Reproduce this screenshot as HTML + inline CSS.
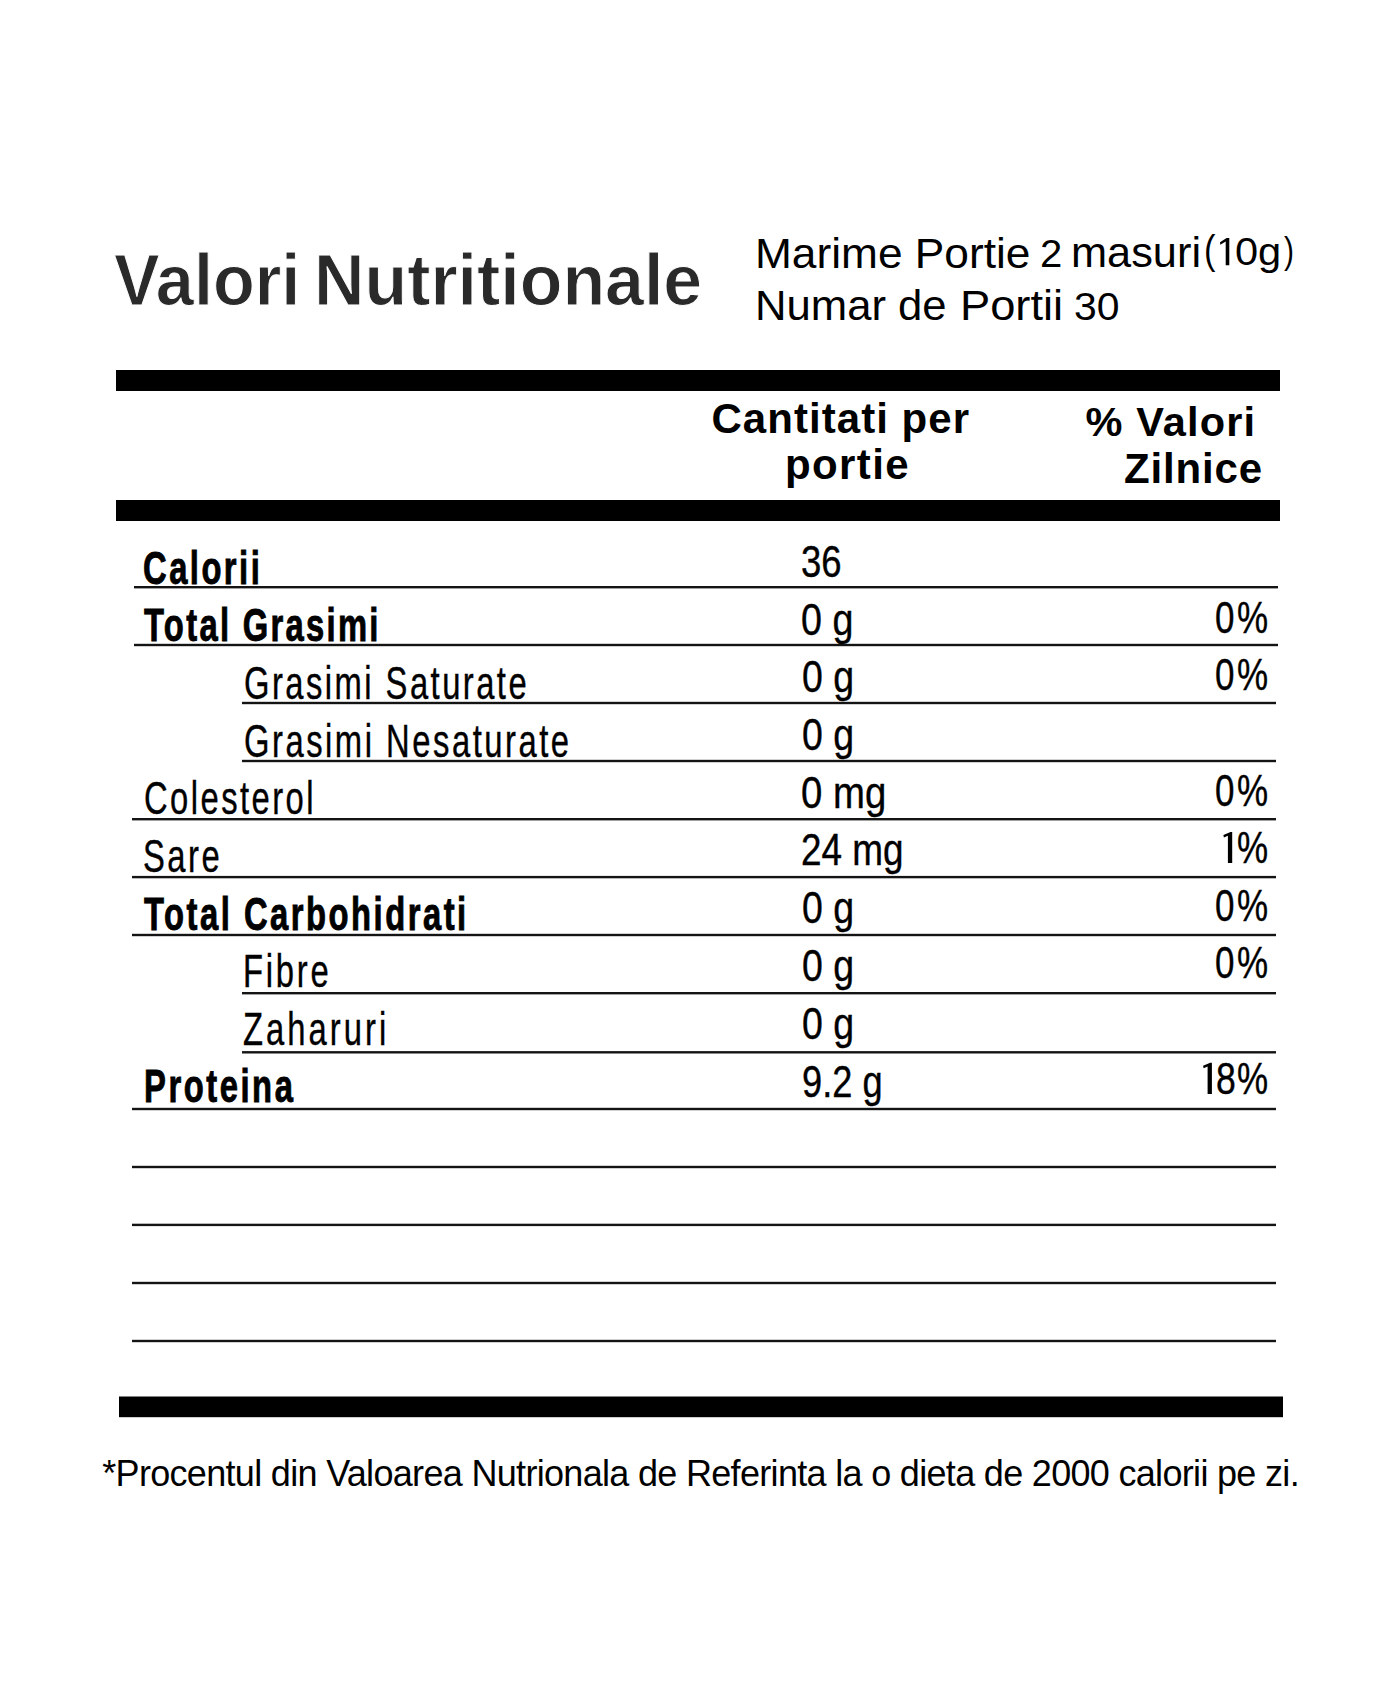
<!DOCTYPE html>
<html><head><meta charset="utf-8"><title>Valori Nutritionale</title>
<style>
html,body{margin:0;padding:0;background:#fff;}
body{width:1400px;height:1700px;position:relative;overflow:hidden;font-family:"Liberation Sans",sans-serif;}
.t{position:absolute;white-space:pre;line-height:1;transform-origin:0 0;}
.c{-webkit-text-stroke:0.4px #000;}
.cb{-webkit-text-stroke:0.9px #000;}
.ti{-webkit-text-stroke:1px #fff;}
</style></head><body>
<svg width="1400" height="1700" style="position:absolute;left:0;top:0"><rect x="116" y="370" width="1164" height="21" fill="#000"/><rect x="116" y="500" width="1164" height="21" fill="#000"/><rect x="119" y="1396.5" width="1164" height="20.700000000000045" fill="#000"/><rect x="134" y="586.00" width="1144" height="2.4" fill="#141414"/><rect x="134" y="643.80" width="1144" height="2.4" fill="#141414"/><rect x="242" y="701.80" width="1034" height="2.4" fill="#141414"/><rect x="242" y="759.80" width="1034" height="2.4" fill="#141414"/><rect x="132" y="818.00" width="1144" height="2.4" fill="#141414"/><rect x="132" y="875.90" width="1144" height="2.4" fill="#141414"/><rect x="132" y="933.80" width="1144" height="2.4" fill="#141414"/><rect x="242" y="992.00" width="1034" height="2.4" fill="#141414"/><rect x="242" y="1051.10" width="1034" height="2.4" fill="#141414"/><rect x="132" y="1107.80" width="1144" height="2.4" fill="#141414"/><rect x="132" y="1165.80" width="1144" height="2.4" fill="#141414"/><rect x="132" y="1223.70" width="1144" height="2.4" fill="#141414"/><rect x="132" y="1281.80" width="1144" height="2.4" fill="#141414"/><rect x="132" y="1339.80" width="1144" height="2.4" fill="#141414"/><polygon points="1223.40,834.90 1230.50,831.90 1232.20,831.90 1232.20,863.00 1227.90,863.00 1227.90,835.80 1223.90,837.50" fill="#000"/><polygon points="1220,242.3 1226.6,237.9 1229.3,237.9 1229.3,265.3 1225.7,265.3 1225.7,241.6 1220.3,244.7" fill="#000"/><polygon points="1203.10,1065.70 1210.20,1062.70 1211.90,1062.70 1211.90,1093.90 1207.60,1093.90 1207.60,1066.60 1203.60,1068.30" fill="#000"/></svg>
<div class="t ti" style="left:113.55px;top:243.50px;font-weight:700;font-size:72px;color:#2a2a2a;transform:scaleX(0.9500)">Valori</div>
<div class="t ti" style="left:313.75px;top:243.50px;font-weight:700;font-size:72px;color:#2a2a2a;transform:scaleX(0.9705)">Nutritionale</div>
<div class="t" style="left:755.18px;top:232.80px;font-weight:400;font-size:42.5px;color:#000;transform:scaleX(1.0412)">Marime Portie</div>
<div class="t" style="left:1040.44px;top:233.80px;font-weight:400;font-size:39px;color:#000;transform:scaleX(1.0278)">2</div>
<div class="t" style="left:1070.54px;top:231.70px;font-weight:400;font-size:42.5px;color:#000;transform:scaleX(1.0197)">masuri</div>
<div class="t" style="left:1204.29px;top:231.40px;font-weight:400;font-size:40.3px;color:#000;transform:scaleX(0.8545)">(</div>
<div class="t" style="left:1234.69px;top:232.30px;font-weight:400;font-size:39.5px;color:#000;transform:scaleX(1.0525)">0g</div>
<div class="t" style="left:1283.77px;top:232.60px;font-weight:400;font-size:36px;color:#000;transform:scaleX(0.8333)">)</div>
<div class="t" style="left:754.88px;top:285.30px;font-weight:400;font-size:42px;color:#000;transform:scaleX(1.0389)">Numar de</div>
<div class="t" style="left:959.77px;top:285.30px;font-weight:400;font-size:42px;color:#000;transform:scaleX(1.0778)">Portii</div>
<div class="t" style="left:1074.38px;top:288.30px;font-weight:400;font-size:38.5px;color:#000;transform:scaleX(1.0625)">30</div>
<div class="t" style="left:711.50px;top:397.50px;font-weight:700;font-size:42px;color:#000;letter-spacing:1.042px">Cantitati per</div>
<div class="t" style="left:785.00px;top:443.50px;font-weight:700;font-size:42px;color:#000;letter-spacing:1.400px">portie</div>
<div class="t" style="left:1085.50px;top:401.00px;font-weight:700;font-size:41.5px;color:#000;letter-spacing:1.143px">% Valori</div>
<div class="t" style="left:1124.00px;top:447.50px;font-weight:700;font-size:42px;color:#000;letter-spacing:0.833px">Zilnice</div>
<div class="t cb" style="left:143.31px;top:546.00px;font-weight:700;font-size:45.5px;color:#000;letter-spacing:3.428px;transform:scaleX(0.7200)">Calorii</div>
<div class="t cb" style="left:143.50px;top:603.40px;font-weight:700;font-size:45.5px;color:#000;letter-spacing:3.185px;transform:scaleX(0.7200)">Total Grasimi</div>
<div class="t c" style="left:243.56px;top:661.30px;font-weight:400;font-size:45.5px;color:#000;letter-spacing:3.413px;transform:scaleX(0.7200)">Grasimi Saturate</div>
<div class="t c" style="left:243.56px;top:719.10px;font-weight:400;font-size:45.5px;color:#000;letter-spacing:3.500px;transform:scaleX(0.7200)">Grasimi Nesaturate</div>
<div class="t c" style="left:144.06px;top:776.30px;font-weight:400;font-size:45.5px;color:#000;letter-spacing:3.395px;transform:scaleX(0.7200)">Colesterol</div>
<div class="t c" style="left:143.06px;top:833.80px;font-weight:400;font-size:45.5px;color:#000;letter-spacing:3.500px;transform:scaleX(0.7200)">Sare</div>
<div class="t cb" style="left:143.50px;top:891.60px;font-weight:700;font-size:45.5px;color:#000;letter-spacing:3.472px;transform:scaleX(0.7200)">Total Carbohidrati</div>
<div class="t c" style="left:243.12px;top:949.00px;font-weight:400;font-size:45.5px;color:#000;letter-spacing:3.833px;transform:scaleX(0.7200)">Fibre</div>
<div class="t c" style="left:243.18px;top:1006.70px;font-weight:400;font-size:45.5px;color:#000;letter-spacing:4.226px;transform:scaleX(0.7200)">Zaharuri</div>
<div class="t cb" style="left:143.84px;top:1064.20px;font-weight:700;font-size:45.5px;color:#000;letter-spacing:3.536px;transform:scaleX(0.7200)">Proteina</div>
<div class="t c" style="left:801.16px;top:540.20px;font-weight:400;font-size:44.5px;color:#000;transform:scaleX(0.8196)">36</div>
<div class="t c" style="left:801.31px;top:597.70px;font-weight:400;font-size:44.5px;color:#000;transform:scaleX(0.8456)">0 g</div>
<div class="t c" style="left:801.82px;top:655.20px;font-weight:400;font-size:44.5px;color:#000;transform:scaleX(0.8421)">0 g</div>
<div class="t c" style="left:801.82px;top:713.00px;font-weight:400;font-size:44.5px;color:#000;transform:scaleX(0.8421)">0 g</div>
<div class="t c" style="left:801.28px;top:770.60px;font-weight:400;font-size:44.5px;color:#000;transform:scaleX(0.8617)">0 mg</div>
<div class="t c" style="left:800.84px;top:828.40px;font-weight:400;font-size:44.5px;color:#000;transform:scaleX(0.8294)">24 mg</div>
<div class="t c" style="left:801.82px;top:886.20px;font-weight:400;font-size:44.5px;color:#000;transform:scaleX(0.8421)">0 g</div>
<div class="t c" style="left:801.82px;top:944.00px;font-weight:400;font-size:44.5px;color:#000;transform:scaleX(0.8421)">0 g</div>
<div class="t c" style="left:801.82px;top:1001.70px;font-weight:400;font-size:44.5px;color:#000;transform:scaleX(0.8421)">0 g</div>
<div class="t c" style="left:801.87px;top:1059.50px;font-weight:400;font-size:44.5px;color:#000;transform:scaleX(0.8138)">9.2 g</div>
<div class="t c" style="left:1215.18px;top:595.70px;font-weight:400;font-size:44.5px;color:#000;transform:scaleX(0.7857)">0</div>
<div class="t c" style="left:1215.18px;top:653.30px;font-weight:400;font-size:44.5px;color:#000;transform:scaleX(0.7857)">0</div>
<div class="t c" style="left:1215.18px;top:768.50px;font-weight:400;font-size:44.5px;color:#000;transform:scaleX(0.7857)">0</div>
<div class="t c" style="left:1215.18px;top:883.80px;font-weight:400;font-size:44.5px;color:#000;transform:scaleX(0.7857)">0</div>
<div class="t c" style="left:1215.18px;top:941.40px;font-weight:400;font-size:44.5px;color:#000;transform:scaleX(0.7857)">0</div>
<div class="t c" style="left:1215.90px;top:1056.60px;font-weight:400;font-size:44.5px;color:#000;transform:scaleX(0.8000)">8</div>
<div class="t c" style="left:1236.63px;top:595.70px;font-weight:400;font-size:44.5px;color:#000;transform:scaleX(0.7861)">%</div>
<div class="t c" style="left:1236.63px;top:653.30px;font-weight:400;font-size:44.5px;color:#000;transform:scaleX(0.7861)">%</div>
<div class="t c" style="left:1236.63px;top:768.50px;font-weight:400;font-size:44.5px;color:#000;transform:scaleX(0.7861)">%</div>
<div class="t c" style="left:1236.63px;top:826.20px;font-weight:400;font-size:44.5px;color:#000;transform:scaleX(0.7861)">%</div>
<div class="t c" style="left:1236.63px;top:883.80px;font-weight:400;font-size:44.5px;color:#000;transform:scaleX(0.7861)">%</div>
<div class="t c" style="left:1236.63px;top:941.40px;font-weight:400;font-size:44.5px;color:#000;transform:scaleX(0.7861)">%</div>
<div class="t c" style="left:1236.63px;top:1056.60px;font-weight:400;font-size:44.5px;color:#000;transform:scaleX(0.7861)">%</div>
<div class="t" style="left:102.25px;top:1456.20px;font-weight:400;font-size:36px;color:#000;letter-spacing:-0.684px">*Procentul din Valoarea Nutrionala de Referinta la o dieta de 2000 calorii pe zi.</div>
</body></html>
